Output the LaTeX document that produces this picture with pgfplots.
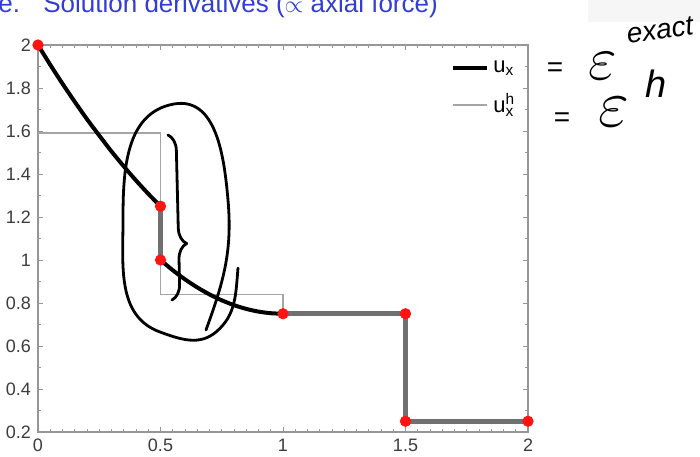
\documentclass[border=0pt]{standalone}
\usepackage{pgfplots}
\pgfplotsset{compat=1.18}
\usepackage{fontspec}
\setmainfont{Liberation Sans}
\usetikzlibrary{decorations.pathreplacing}

\definecolor{titleblue}{RGB}{50,60,215}
\definecolor{approxgray}{RGB}{165,165,165}
\definecolor{jumpgray}{RGB}{112,112,112}
\definecolor{axisgray}{RGB}{150,150,150}
\definecolor{ticklab}{RGB}{60,60,60}
\definecolor{nodered}{RGB}{255,20,20}

\begin{document}
\begin{tikzpicture}
\useasboundingbox (0,0) rectangle (350pt,228pt);

% slide header, cut by the page edge
\fill[gray!7] (294pt,217pt) rectangle (350pt,228pt);
\node[anchor=base west, text=titleblue, font=\fontsize{13}{14}\selectfont, inner sep=0]
  at (-1pt,221.5pt) {e.};
\node[anchor=base west, text=titleblue, font=\fontsize{13}{14}\selectfont, inner sep=0]
  at (21.5pt,221.5pt) {Solution derivatives ($\propto$ axial force)};

\begin{axis}[
  at={(19pt,12pt)}, anchor=south west,
  scale only axis, width=245pt, height=193.5pt,
  xmin=0, xmax=2, ymin=0.2, ymax=2,
  xtick={0,0.5,1,1.5,2},
  ytick={0.2,0.4,0.6,0.8,1,1.2,1.4,1.6,1.8,2},
  minor x tick num=9, minor y tick num=1,
  tick align=inside,
  major tick length=2.5pt, minor tick length=1.5pt,
  axis line style={axisgray, line width=0.6pt},
  every tick/.style={axisgray, line width=0.5pt},
  tick label style={font=\fontsize{9}{10}\selectfont, text=ticklab},
  /pgf/number format/assume math mode=true,
  clip=false,
  legend style={draw=none, fill=none, at={(0.985,0.975)}, anchor=north east,
    font=\fontsize{11}{12}\selectfont, row sep=5pt, inner sep=1pt},
  legend cell align=left,
  legend image code/.code={\draw[#1] (0pt,0pt) -- (17pt,0pt);},
]
\addlegendimage{black, line width=2pt}
\addlegendentry{u\textsubscript{x}}
\addlegendimage{approxgray, line width=0.8pt}
\addlegendentry{u\makebox[0pt][l]{\textsuperscript{h}}\textsubscript{x}}

% piecewise constant approximation u_x^h
\addplot[approxgray, line width=0.8pt, forget plot] coordinates {
  (0,1.59) (0.5,1.59) (0.5,0.84) (1,0.84) (1,0.75) (1.5,0.75) (1.5,0.25) (2,0.25)};

% exact derivative u_x
\addplot[black, line width=2pt, smooth, forget plot] coordinates {
  (0,2.000) (0.05,1.908) (0.1,1.820) (0.15,1.736) (0.2,1.655) (0.25,1.579)
  (0.3,1.505) (0.35,1.436) (0.4,1.370) (0.45,1.308) (0.5,1.250)};
\addplot[jumpgray, line width=2.4pt, forget plot] coordinates {(0.5,1.25) (0.5,1.0)};
\addplot[black, line width=2pt, smooth, forget plot] coordinates {
  (0.5,1.000) (0.55,0.9525) (0.6,0.910) (0.65,0.8725) (0.7,0.840) (0.75,0.8125)
  (0.8,0.790) (0.85,0.7725) (0.9,0.760) (0.95,0.7525) (1.0,0.750)};
\addplot[jumpgray, line width=2.4pt, forget plot] coordinates {
  (1,0.75) (1.5,0.75) (1.5,0.25) (2,0.25)};

% nodes
\addplot[only marks, mark=*, mark size=2.6pt, nodered, forget plot] coordinates {
  (0,2) (0.5,1.25) (0.5,1) (1,0.75) (1.5,0.75) (1.5,0.25) (2,0.25)};
\end{axis}

% pen annotations
\begin{scope}[line width=1.4pt, line cap=round, line join=round]
\draw (119pt,94pt) to[out=-95,in=40] (108pt,62pt) to[out=220,in=-20] (80pt,62pt)
  to[out=160,in=-90] (61.5pt,118pt) to[out=90,in=190] (87pt,176pt)
  to[out=10,in=95] (114pt,128pt) to[out=-85,in=70] (103pt,63pt);
\draw[decorate, decoration={brace, amplitude=8pt, aspect=0.66}]
  (84pt,160.5pt) -- (86pt,78pt);
\end{scope}

\node[font=\fontsize{14}{14}\selectfont] at (277.5pt,193pt) {=};
\node[font=\fontsize{24}{24}\selectfont, inner sep=0, scale=1.25] at (301.5pt,195pt) {$\varepsilon$};
\node[font=\fontsize{14}{14}\itshape, rotate=8] at (330pt,213pt) {exact};
\node[font=\fontsize{14}{14}\selectfont] at (281pt,168pt) {=};
\node[font=\fontsize{24}{24}\selectfont, inner sep=0, scale=1.35] at (307pt,172pt) {$\varepsilon$};
\node[font=\fontsize{19}{19}\itshape, inner sep=0] at (328pt,186pt) {h};
\end{tikzpicture}
\end{document}
